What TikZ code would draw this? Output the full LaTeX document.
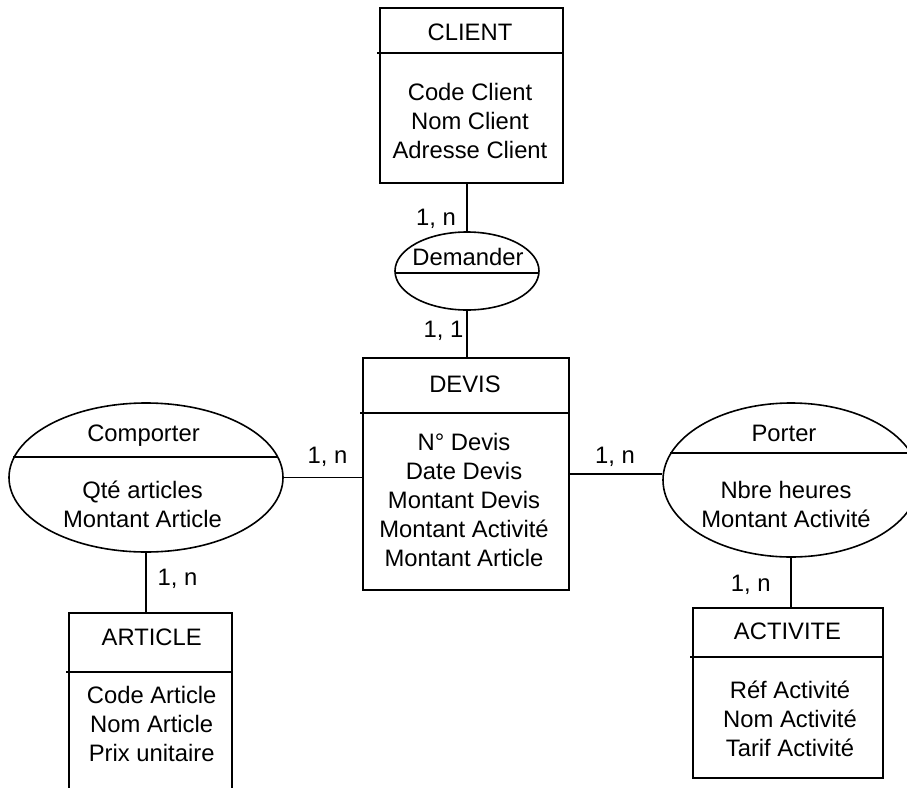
\documentclass[tikz,border=0pt]{standalone}
\usepackage{fontspec}
\setmainfont{Liberation Sans}
\usetikzlibrary{shapes.geometric,calc}
\begin{document}
\begin{tikzpicture}[x=1pt,y=-1pt,
  every node/.style={font=\fontsize{23.8}{29}\selectfont},
  ln/.style={line width=1.6pt},
  entbox/.style={draw,line width=1.6pt,rectangle,inner sep=0pt,anchor=north west},
  rel/.style={draw,line width=1.6pt,ellipse,inner sep=0pt},
  txt/.style={align=center,inner sep=0pt},
  card/.style={anchor=base,inner sep=0pt}]
\fill[white] (0,0) rectangle (907,787);
\useasboundingbox (0,0) rectangle (907,787);
\clip (0,0) rectangle (907,787);

% CLIENT
\node[entbox,minimum width=183pt,minimum height=175pt] (cli) at (379,7) {};
\draw[ln] ($(cli.north west)+(-2,46)$) -- ($(cli.north east)+(0,46)$);
\node[card] (clit) at (470,40.7) {CLIENT};
\node[txt] (clia) at (470,121) {Code Client\\Nom Client\\Adresse Client};

% Demander
\node[rel,minimum width=144pt,minimum height=78pt] (dem) at (467,271) {};
\draw[ln] ($(dem.center)+(-72,2)$) -- ($(dem.center)+(71,2)$);
\node[card] (demt) at (468,265) {Demander};

% DEVIS
\node[entbox,minimum width=206pt,minimum height=232pt] (dev) at (362,357) {};
\draw[ln] ($(dev.north west)+(-2,56)$) -- ($(dev.north east)+(0,56)$);
\node[card] (devt) at (465,392) {DEVIS};
\node[txt] (deva) at (464,500) {N° Devis\\Date Devis\\Montant Devis\\Montant Activité\\Montant Article};

% Comporter
\node[rel,minimum width=274pt,minimum height=149pt] (com) at (146,477.5) {};
\draw[ln] ($(com.center)+(-133,-20.5)$) -- ($(com.center)+(132,-20.5)$);
\node[card] (comt) at (143.5,441) {Comporter};
\node[txt] (coma) at (142.5,504.5) {Qté articles\\Montant Article};

% Porter
\node[rel,minimum width=256pt,minimum height=154pt] (por) at (791,480) {};
\draw[ln] ($(por.center)+(-121,-27)$) -- ($(por.center)+(120,-27)$);
\node[card] (port) at (784,441) {Porter};
\node[txt] (pora) at (786,504.5) {Nbre heures\\Montant Activité};

% ARTICLE
\node[entbox,minimum width=163pt,minimum height=200pt] (art) at (68,612) {};
\draw[ln] ($(art.north west)+(-2,60)$) -- ($(art.north east)+(0,60)$);
\node[card] (artt) at (151.7,645) {ARTICLE};
\node[txt] (arta) at (151.7,723.7) {Code Article\\Nom Article\\Prix unitaire};

% ACTIVITE
\node[entbox,minimum width=190pt,minimum height=170pt] (act) at (692,607) {};
\draw[ln] ($(act.north west)+(-2,50)$) -- ($(act.north east)+(0,50)$);
\node[card] (actt) at (787.5,639.3) {ACTIVITE};
\node[txt] (acta) at (790,719.3) {Réf Activité\\Nom Activité\\Tarif Activité};

% connectors
\draw[ln] (dem.north |- cli.south) -- (dem.north);
\draw[ln] (dem.south) -- (dem.south |- dev.north);
\draw[ln] (com.east) -- (com.east -| dev.west);
\draw[ln] (dev.east) -- (dev.east -| por.west);
\draw[ln] (com.south) -- (com.south |- art.north);
\draw[ln] (por.south) -- (por.south |- act.north);

% cardinalities
\node[card] (c1) at (436,225) {1, n};
\node[card] (c2) at (443.5,337) {1, 1};
\node[card] (c3) at (327.5,463) {1, n};
\node[card] (c4) at (615,463) {1, n};
\node[card] (c5) at (177.5,585) {1, n};
\node[card] (c6) at (750.8,591) {1, n};
\end{tikzpicture}
\end{document}
